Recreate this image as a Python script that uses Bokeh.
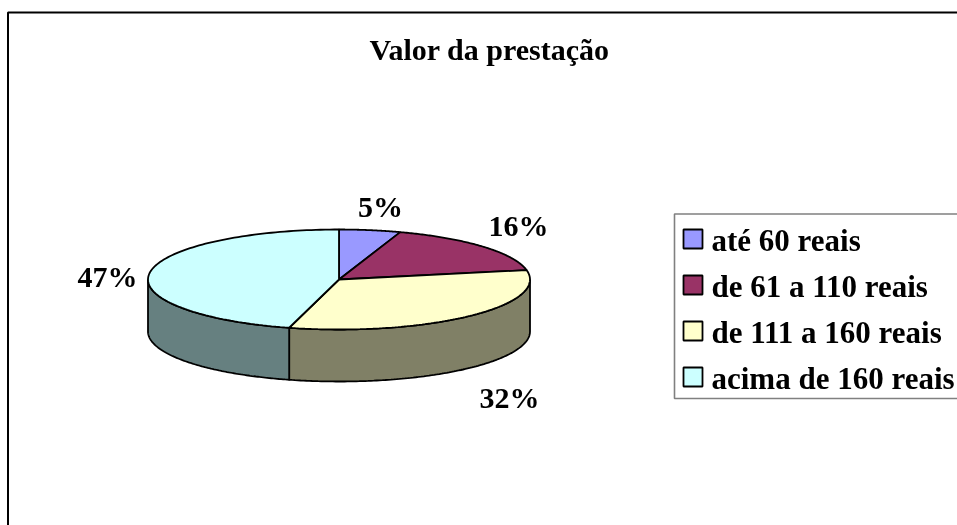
import numpy as np
from bokeh.plotting import figure
from bokeh.embed import file_html
from bokeh.resources import INLINE
from bokeh.core.properties import value

title = "Valor da prestação"
categories = ["até 60 reais", "de 61 a 110 reais", "de 111 a 160 reais", "acima de 160 reais"]
pct_labels = ["5%", "16%", "32%", "47%"]
shares = [5.2, 16.8, 32.2, 45.8]
colors = ["#9999FF", "#993366", "#FFFFCC", "#CCFFFF"]
side_colors = ["#4D4D80", "#4D1A33", "#808066", "#668080"]

W, H = 957, 525
CX, CY, RX, RY, DEPTH = 338.5, 279.0, 191.0, 50.0, 52.0
FONT = value("Liberation Serif")
SIZE = "30px"

p = figure(width=W, height=H, x_range=(0, W), y_range=(H, 0), output_backend="svg",
           toolbar_location=None, min_border=0, outline_line_color=None,
           background_fill_color="white", border_fill_color="white",
           styles={"position": "fixed", "left": "0px", "top": "0px"})
p.axis.visible = False
p.grid.visible = False

# frame, open towards the right and bottom like the picture
p.line([7.5, 7.5, W], [H, 12, 12], line_color="black", line_width=2)

def rim(a0, a1, n=120):
    t = np.radians(np.linspace(a0, a1, n))
    return CX + RX * np.sin(t), CY - RY * np.cos(t)

edges = 360 * np.cumsum([0] + shares) / sum(shares)

# side walls: only the front half (90..270 degrees) can be seen
for i, c in enumerate(side_colors):
    a0, a1 = max(edges[i], 90), min(edges[i + 1], 270)
    if a0 >= a1:
        continue
    x, y = rim(a0, a1)
    p.patch(np.r_[x, x[::-1]], np.r_[y, y[::-1] + DEPTH], fill_color=c,
            line_color="black", line_width=1.8)

# top face
for i, c in enumerate(colors):
    x, y = rim(edges[i], edges[i + 1])
    p.patch(np.r_[CX, x], np.r_[CY, y], fill_color=c, line_color="black", line_width=1.8)

# percentage labels
lab_x = [380, 518, 509, 107]
lab_y = [206, 225, 397, 276]
p.text(lab_x, lab_y, text=pct_labels, text_font=FONT, text_font_style="bold",
       text_font_size=SIZE, text_align="center", text_baseline="alphabetic", text_color="black")

# title
p.text([489], [49], text=[title], text_font=FONT, text_font_style="bold",
       text_font_size=SIZE, text_align="center", text_baseline="alphabetic", text_color="black")

# legend box
p.line([W, 674, 674, W], [213.5, 213.5, 398, 398], line_color="#808080", line_width=1.6)
rows = np.arange(len(categories))
top = 229 + 46 * rows
p.quad(left=683, right=702, top=top, bottom=top + 19, fill_color=colors,
       line_color="black", line_width=1.8)
p.text(711, top + 11, text=categories, text_font=FONT, text_font_style="bold",
       text_font_size="31px", text_align="left", text_baseline="alphabetic", text_color="black")

open("out.html", "w").write(file_html(p, INLINE))
